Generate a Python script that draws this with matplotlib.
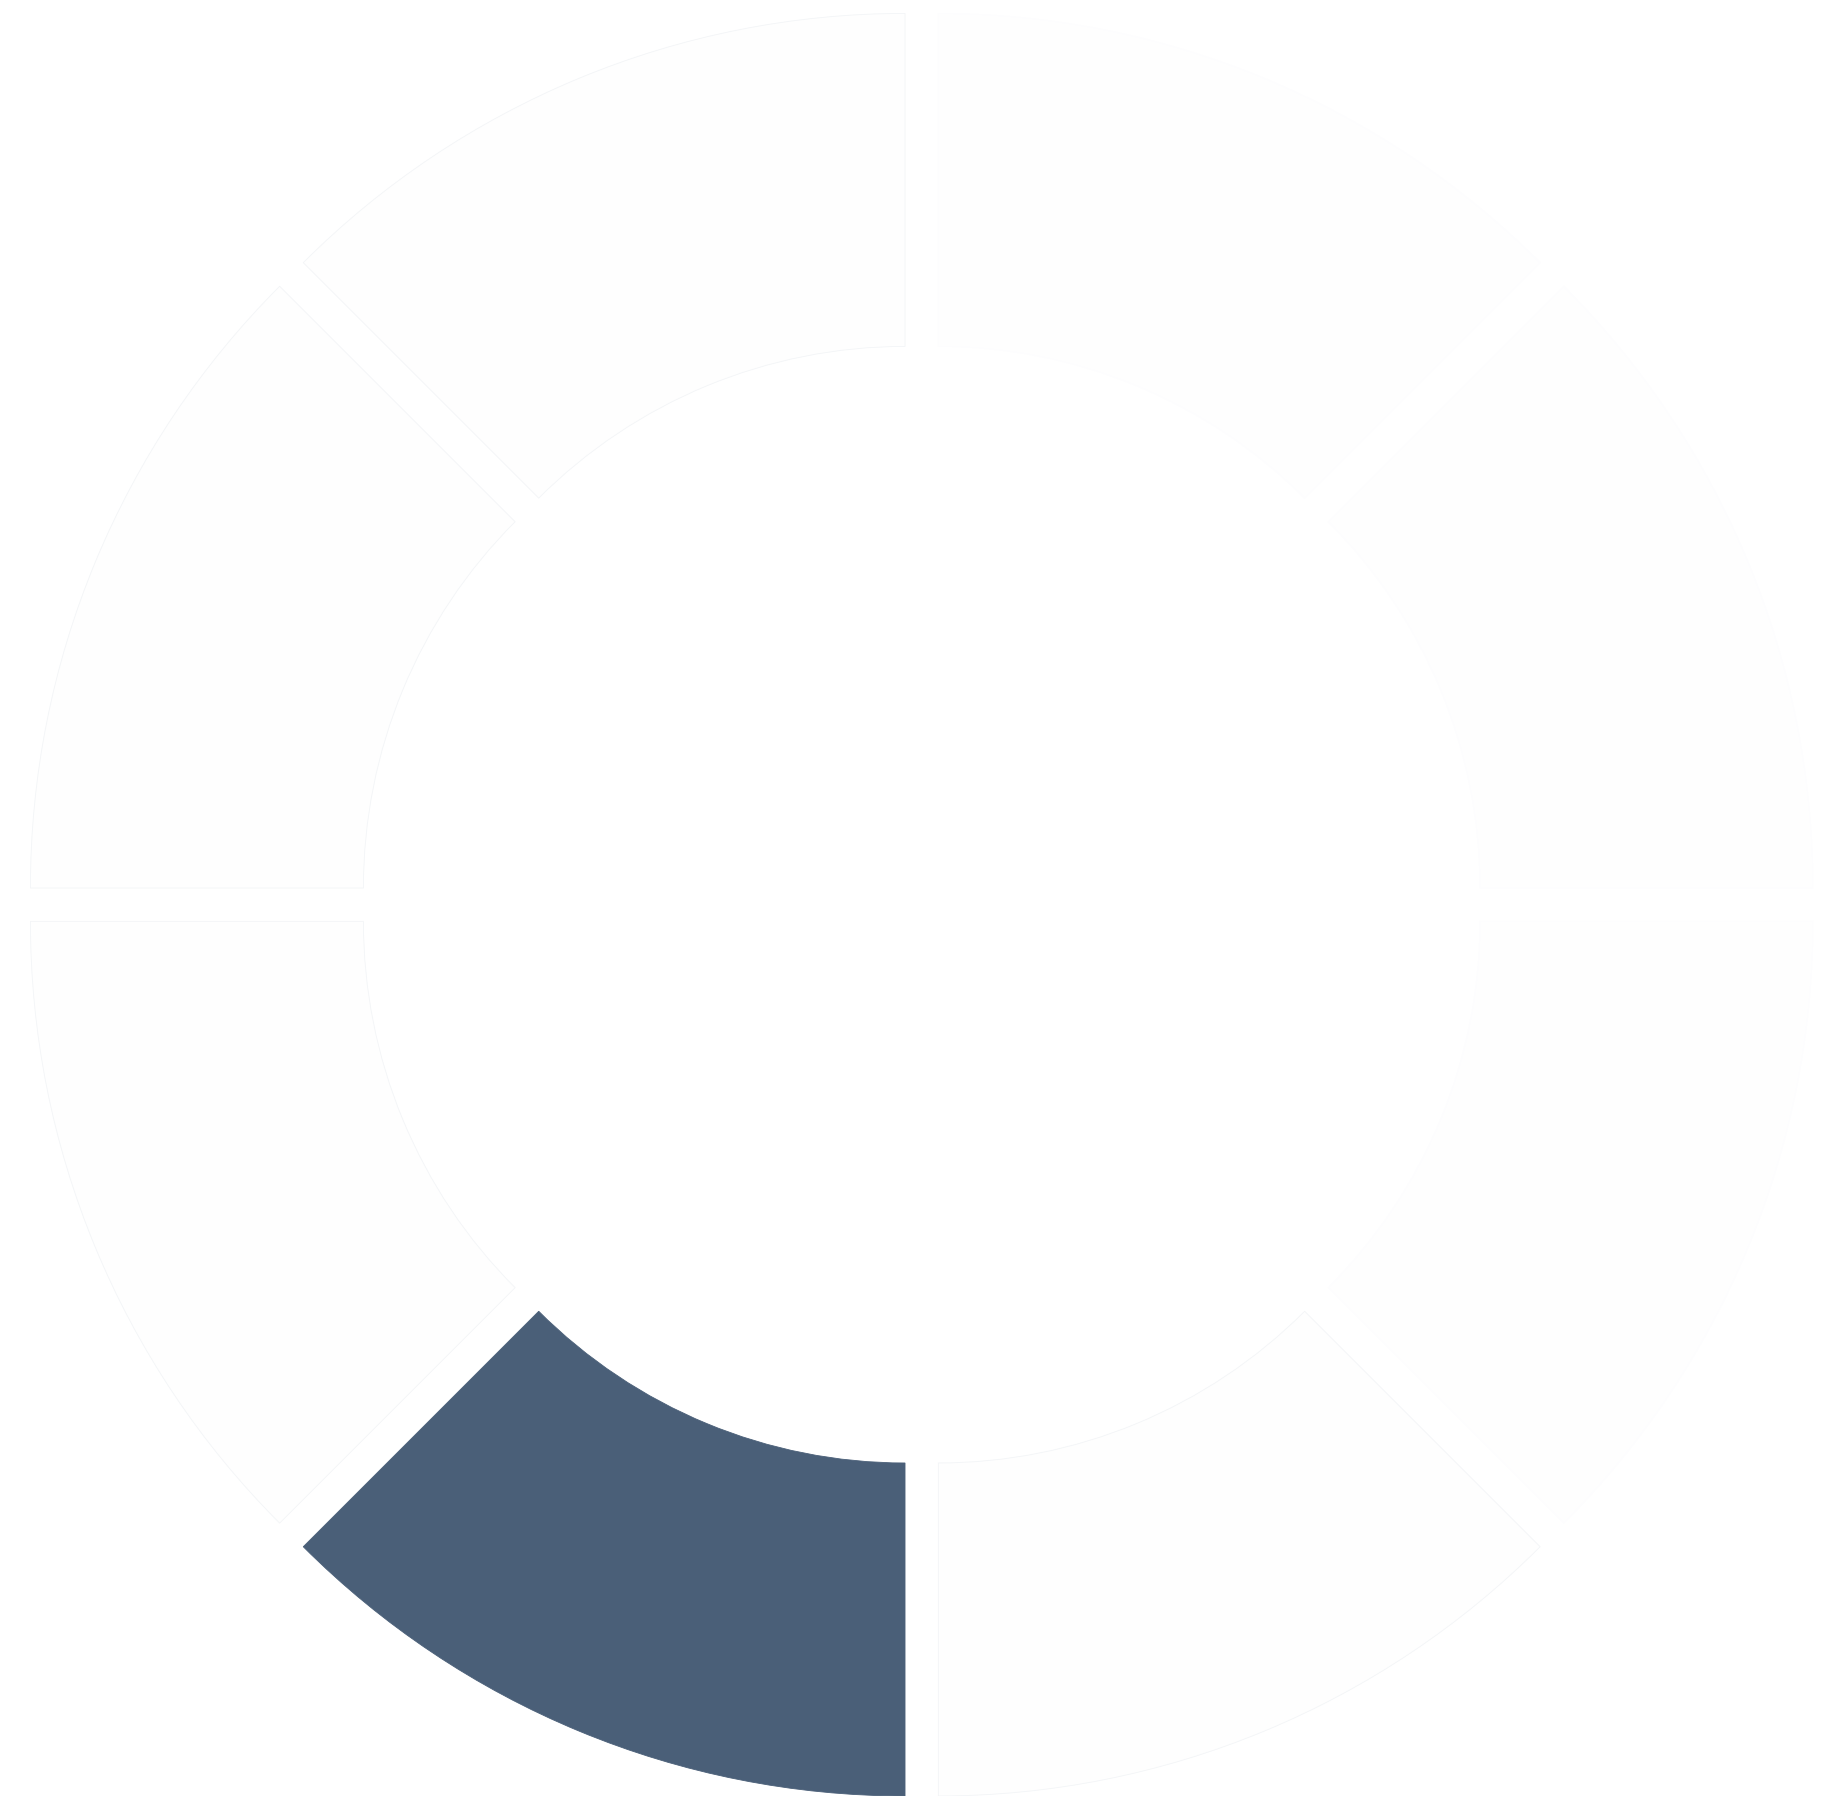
import matplotlib
matplotlib.use('Agg')
import matplotlib.pyplot as plt

# Donut: eight equal segments, one highlighted
segments = ['S1', 'S2', 'S3', 'S4', 'S5', 'S6', 'S7', 'S8']
shares = [1, 1, 1, 1, 1, 1, 1, 1]
highlight = 'S6'

W, H = 1838, 1796
CENTER = (921.7, H - 904.7)   # pixel space, y up
R_OUT = 851
R_IN = 518
GAP = 43.6                    # explode distance in px

DARK = '#4a5f78'
LIGHT = '#fefefe'

fig = plt.figure(figsize=(W / 100, H / 100), dpi=100)
ax = fig.add_axes([0, 0, 1, 1])

colors = [DARK if s == highlight else LIGHT for s in segments]
wedges, _ = ax.pie(shares, colors=colors, startangle=0, counterclock=True,
                   explode=[GAP] * len(shares), radius=R_OUT, center=CENTER,
                   wedgeprops=dict(width=R_OUT - R_IN, linewidth=0.6))

# outlines are barely visible, and only on the left / bottom segments
for s, w in zip(segments, wedges):
    if s == highlight:
        w.set_edgecolor(DARK)
    elif s in ('S1', 'S2', 'S8'):
        w.set_edgecolor('#fdfdfe')
    else:
        w.set_edgecolor('#f3f5f7')

ax.set_xlim(0, W)
ax.set_ylim(0, H)
ax.set_aspect('equal')
ax.axis('off')

fig.savefig('out.png', dpi=100, facecolor='white')
